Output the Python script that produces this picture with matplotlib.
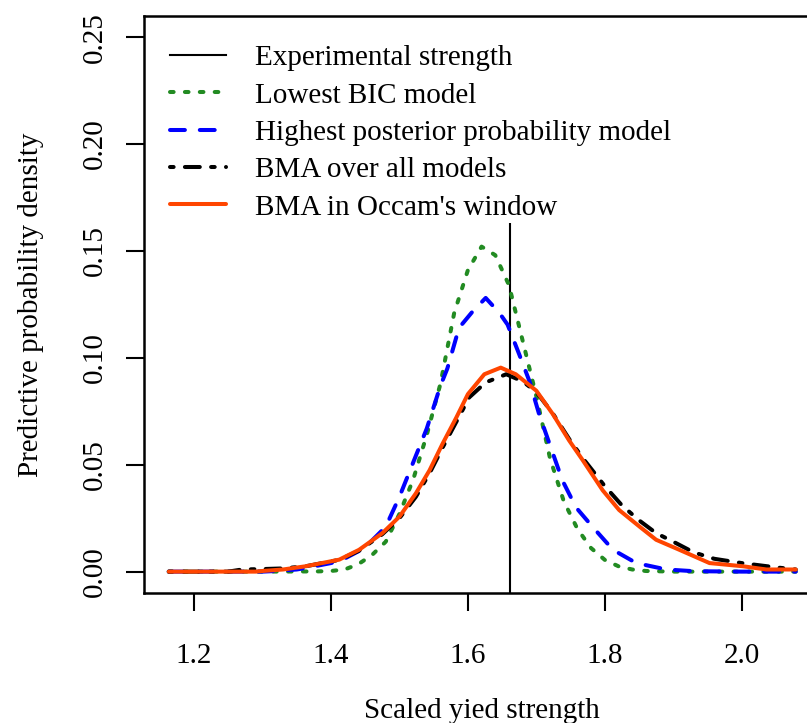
import matplotlib
matplotlib.use("Agg")
import matplotlib.pyplot as plt
from matplotlib.lines import Line2D

plt.rcParams['font.family'] = ['Liberation Serif', 'DejaVu Serif']

# values
exp_strength = 1.662

bic_x = [1.163, 1.30, 1.38, 1.40, 1.42, 1.44, 1.46, 1.48, 1.50, 1.52, 1.54, 1.56,
         1.58, 1.60, 1.62, 1.64, 1.66, 1.68, 1.70, 1.72, 1.74, 1.76, 1.78, 1.80,
         1.82, 1.84, 1.86, 1.90, 2.00, 2.079]
bic_y = [0.0, 0.0, 0.0001, 0.0003, 0.0010, 0.0035, 0.0078, 0.0140, 0.027, 0.043,
         0.064, 0.088, 0.121, 0.141, 0.152, 0.148, 0.134, 0.108, 0.082, 0.053,
         0.033, 0.020, 0.011, 0.0055, 0.0025, 0.001, 0.0003, 0.0, 0.0, 0.0]

hpp_x = [1.163, 1.30, 1.32, 1.35, 1.363, 1.40, 1.417, 1.44, 1.456, 1.48, 1.50,
         1.52, 1.54, 1.553, 1.56, 1.57, 1.587, 1.60, 1.607, 1.626, 1.646, 1.658,
         1.675, 1.69, 1.704, 1.719, 1.738, 1.758, 1.782, 1.812, 1.846, 1.89, 1.93,
         2.00, 2.079]
hpp_y = [0.0, 0.0, 0.0003, 0.001, 0.0017, 0.004, 0.0056, 0.0095, 0.0133, 0.021,
         0.035, 0.051, 0.067, 0.080, 0.087, 0.095, 0.114, 0.119, 0.1217, 0.128,
         0.121, 0.1155, 0.1016, 0.089, 0.0737, 0.060, 0.0427, 0.030, 0.021, 0.0102,
         0.004, 0.001, 0.0002, 0.0, 0.0]

bma_all_x = [1.163, 1.25, 1.27, 1.30, 1.33, 1.363, 1.412, 1.441, 1.475, 1.50,
             1.524, 1.544, 1.563, 1.583, 1.602, 1.626, 1.656, 1.68, 1.70, 1.724,
             1.748, 1.768, 1.80, 1.825, 1.85, 1.875, 1.90, 1.93, 1.96, 2.00, 2.05,
             2.079]
bma_all_y = [0.0, 0.0, 0.001, 0.0012, 0.0015, 0.0025, 0.0055, 0.0098, 0.0175,
             0.025, 0.035, 0.046, 0.058, 0.070, 0.0815, 0.0885, 0.0923, 0.089,
             0.084, 0.074, 0.062, 0.053, 0.040, 0.031, 0.024, 0.018, 0.014, 0.009,
             0.006, 0.004, 0.002, 0.001]

bma_occ_x = [1.163, 1.29, 1.30, 1.33, 1.363, 1.412, 1.441, 1.475, 1.50, 1.524,
             1.544, 1.563, 1.583, 1.60, 1.624, 1.648, 1.67, 1.70, 1.724, 1.748,
             1.768, 1.797, 1.821, 1.851, 1.875, 1.909, 1.953, 2.002, 2.036, 2.079]
bma_occ_y = [0.0, 0.0, 0.0003, 0.001, 0.0025, 0.0056, 0.0102, 0.018, 0.0257,
             0.0366, 0.0474, 0.0598, 0.072, 0.083, 0.0923, 0.0954, 0.0923, 0.0846,
             0.0737, 0.0613, 0.052, 0.038, 0.0288, 0.021, 0.0149, 0.0102, 0.004,
             0.0025, 0.001, 0.001]

labels = ["Experimental strength", "Lowest BIC model",
          "Highest posterior probability model", "BMA over all models",
          "BMA in Occam's window"]

fig = plt.figure(figsize=(8.07, 7.23), dpi=100)
ax = fig.add_axes([0.1781, 0.1798, 0.8385, 0.7985])

lw = 2.9
# R style dashes: round caps, pattern in units of the line width
style = dict(lw=lw, dash_capstyle="round", solid_capstyle="round",
             dash_joinstyle="round", solid_joinstyle="round")
ax.vlines(exp_strength, -0.01, 0.163, color="black", lw=1.5)
l1, = ax.plot(bic_x, bic_y, color="#228B22", linestyle=(0, (0.9, 2.8)), **style)
l2, = ax.plot(hpp_x, hpp_y, color="blue", linestyle=(0, (3.7, 3.7)), **style)
l3, = ax.plot(bma_all_x, bma_all_y, color="black",
              linestyle=(0, (0.9, 2.8, 3.7, 2.8)), **style)
l4, = ax.plot(bma_occ_x, bma_occ_y, color="#FF4500", **style)

ax.set_xlim(1.1264, 2.115)
ax.set_ylim(-0.01, 0.26)
ax.set_xticks([1.2, 1.4, 1.6, 1.8, 2.0])
ax.set_xticklabels(["1.2", "1.4", "1.6", "1.8", "2.0"])
ax.set_yticks([0.0, 0.05, 0.10, 0.15, 0.20, 0.25])
ax.set_yticklabels(["0.00", "0.05", "0.10", "0.15", "0.20", "0.25"], rotation=90, va="center")
ax.tick_params(axis="x", length=13, width=1.5, pad=23, labelsize=21)
ax.tick_params(axis="y", length=13, width=1.5, pad=13, labelsize=21)
for s in ax.spines.values():
    s.set_linewidth(1.8)

ax.set_xlabel("Scaled yied strength", fontsize=21)
ax.set_ylabel("Predictive probability density", fontsize=21)
ax.xaxis.set_label_coords(0.5, -0.2045)
ax.xaxis.label.set_va("center")
ax.yaxis.set_label_coords(-0.166, 0.5)
ax.yaxis.label.set_va("center")

h0 = Line2D([], [], color="black", lw=1.5)
ax.legend([h0, l1, l2, l3, l4], labels, loc="upper left", bbox_to_anchor=(0, 0.995),
          frameon=False, fontsize=21, borderaxespad=0, borderpad=0.9,
          handlelength=1.93, handletextpad=1.0, labelspacing=0.375)

fig.savefig("out.png", dpi=100)
